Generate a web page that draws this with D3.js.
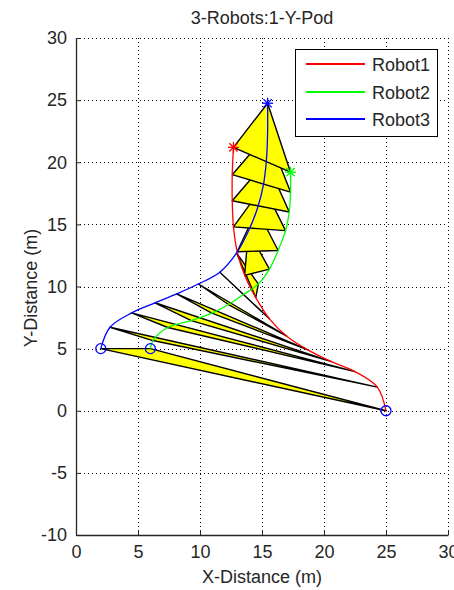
<!DOCTYPE html>
<html>
<head>
<meta charset="utf-8">
<script src="https://cdn.jsdelivr.net/npm/d3@7"></script>
<style>
  html, body { margin: 0; padding: 0; background: #fff; }
  svg { display: block; font-family: "Liberation Sans", Arial, sans-serif; }
</style>
</head>
<body>
<svg id="chart" width="454" height="590"></svg>
<script>
// Sampled positions of each robot, one entry per time step
const robot1X = [25.0, 24.3, 22.5, 20.6, 18.7, 17.0, 15.6, 14.5, 13.6, 13.0, 12.7, 12.6, 12.6, 12.7];
const robot1Y = [0.0, 1.9, 3.15, 3.95, 4.9, 6.0, 7.4, 9.1, 10.9, 12.8, 14.8, 16.9, 19.0, 21.2];
const robot2X = [6.0, 6.2, 7.4, 9.3, 10.95, 12.3, 13.5, 14.7, 15.6, 16.3, 16.9, 17.2, 17.3, 17.3];
const robot2Y = [5.0, 5.65, 6.7, 7.25, 7.85, 8.55, 9.35, 10.2, 11.4, 12.9, 14.5, 16.0, 17.6, 19.2];
const robot3X = [2.0, 2.74, 4.49, 6.37, 8.12, 9.87, 11.6, 12.95, 13.9, 14.6, 15.1, 15.35, 15.45, 15.45];
const robot3Y = [5.0, 6.72, 7.88, 8.69, 9.41, 10.2, 11.15, 12.7, 14.45, 16.2, 18.1, 20.1, 22.3, 24.75];

const robotNames = ["Robot1", "Robot2", "Robot3"];
const robotColors = ["#ff0000", "#00ff00", "#0000ff"];

const xTicks = [0, 5, 10, 15, 20, 25, 30];
const yTicks = [-10, -5, 0, 5, 10, 15, 20, 25, 30];

const titleText = "3-Robots:1-Y-Pod";
const xLabel = "X-Distance (m)";
const yLabel = "Y-Distance (m)";

const svg = d3.select("#chart");
const plotLeft = 76, plotRight = 448, plotTop = 38, plotBottom = 535;

const x = d3.scaleLinear().domain([0, 30]).range([plotLeft, plotRight]);
const y = d3.scaleLinear().domain([-10, 30]).range([plotBottom, plotTop]);

// Grid (dotted)
const grid = svg.append("g").attr("stroke", "#000").attr("stroke-width", 1)
  .attr("stroke-dasharray", "1,3").attr("shape-rendering", "crispEdges");
xTicks.filter(t => t > 0).forEach(t => {
  grid.append("line").attr("x1", Math.round(x(t)) + 0.5).attr("x2", Math.round(x(t)) + 0.5)
    .attr("y1", plotTop).attr("y2", plotBottom);
});
yTicks.filter(t => t > -10).forEach(t => {
  grid.append("line").attr("y1", Math.round(y(t)) + 0.5).attr("y2", Math.round(y(t)) + 0.5)
    .attr("x1", plotLeft).attr("x2", plotRight);
});

// Axes
const fontSize = 18;
const fmt = d => String(d);
const xAxis = d3.axisBottom(x).tickValues(xTicks).tickFormat(fmt).tickSizeInner(-5).tickSizeOuter(0).tickPadding(10);
const yAxis = d3.axisLeft(y).tickValues(yTicks).tickFormat(fmt).tickSizeInner(-5).tickSizeOuter(0).tickPadding(10);

const gx = svg.append("g").attr("transform", `translate(0,${plotBottom})`).call(xAxis);
const gy = svg.append("g").attr("transform", `translate(${plotLeft},0)`).call(yAxis);
[gx, gy].forEach(g => {
  g.select(".domain").attr("stroke", "#262626").attr("stroke-width", 1.3);
  g.selectAll(".tick line").attr("stroke", "#262626");
  g.selectAll(".tick text").attr("font-size", fontSize).attr("fill", "#262626")
    .attr("font-family", "'Liberation Sans', Arial, sans-serif");
});
gy.selectAll(".tick text").attr("dx", "1");

// Formation triangles at each sample
const plot = svg.append("g");
const steps = d3.range(robot1X.length);
plot.selectAll("path.tri").data(steps).enter().append("path")
  .attr("class", "tri")
  .attr("d", i => "M" + [
      [x(robot3X[i]), y(robot3Y[i])],
      [x(robot2X[i]), y(robot2Y[i])],
      [x(robot1X[i]), y(robot1Y[i])]
    ].map(p => p.join(",")).join("L") + "Z")
  .attr("fill", "#ffff00").attr("stroke", "#000").attr("stroke-width", 1.4)
  .attr("stroke-linejoin", "round");

// Trajectories
const lineGen = d3.line().x(d => x(d[0])).y(d => y(d[1])).curve(d3.curveCatmullRom.alpha(0.5));
const robots = [
  d3.zip(robot1X, robot1Y),
  d3.zip(robot2X, robot2Y),
  d3.zip(robot3X, robot3Y)
];
robots.forEach((pts, k) => {
  plot.append("path").attr("d", lineGen(pts)).attr("fill", "none")
    .attr("stroke", robotColors[k]).attr("stroke-width", 1.3);
});

// Start markers (circles) and end markers (stars)
robots.forEach(pts => {
  const p = pts[0];
  plot.append("circle").attr("cx", x(p[0])).attr("cy", y(p[1])).attr("r", 5)
    .attr("fill", "none").attr("stroke", "#0000ff").attr("stroke-width", 1.3);
});
robots.forEach((pts, k) => {
  const p = pts[pts.length - 1];
  const cx = x(p[0]), cy = y(p[1]), s = 5.5, d = s * 0.75;
  const star = plot.append("g").attr("stroke", robotColors[k]).attr("stroke-width", 1.3);
  star.append("line").attr("x1", cx - s).attr("x2", cx + s).attr("y1", cy).attr("y2", cy);
  star.append("line").attr("x1", cx).attr("x2", cx).attr("y1", cy - s).attr("y2", cy + s);
  star.append("line").attr("x1", cx - d).attr("x2", cx + d).attr("y1", cy - d).attr("y2", cy + d);
  star.append("line").attr("x1", cx - d).attr("x2", cx + d).attr("y1", cy + d).attr("y2", cy - d);
});

// Title and axis labels
svg.append("text").attr("x", 262).attr("y", 24).attr("text-anchor", "middle")
  .attr("font-size", fontSize).attr("fill", "#262626").text(titleText);
svg.append("text").attr("x", 262).attr("y", 583).attr("text-anchor", "middle")
  .attr("font-size", fontSize).attr("fill", "#262626").text(xLabel);
svg.append("text").attr("transform", "translate(37,288) rotate(-90)").attr("text-anchor", "middle")
  .attr("font-size", fontSize).attr("fill", "#262626").text(yLabel);

// Legend
const legend = svg.append("g");
legend.append("rect").attr("x", 295.5).attr("y", 49.5).attr("width", 142).attr("height", 87)
  .attr("fill", "#fff").attr("stroke", "#000").attr("stroke-width", 1);
robotNames.forEach((name, k) => {
  const ly = Math.round(64 + k * 27.5);
  legend.append("line").attr("x1", 306).attr("x2", 365).attr("y1", ly).attr("y2", ly)
    .attr("stroke", robotColors[k]).attr("stroke-width", 2);
  legend.append("text").attr("x", 372).attr("y", ly + 6.5).attr("font-size", fontSize)
    .attr("fill", "#262626").text(name);
});
</script>
</body>
</html>
